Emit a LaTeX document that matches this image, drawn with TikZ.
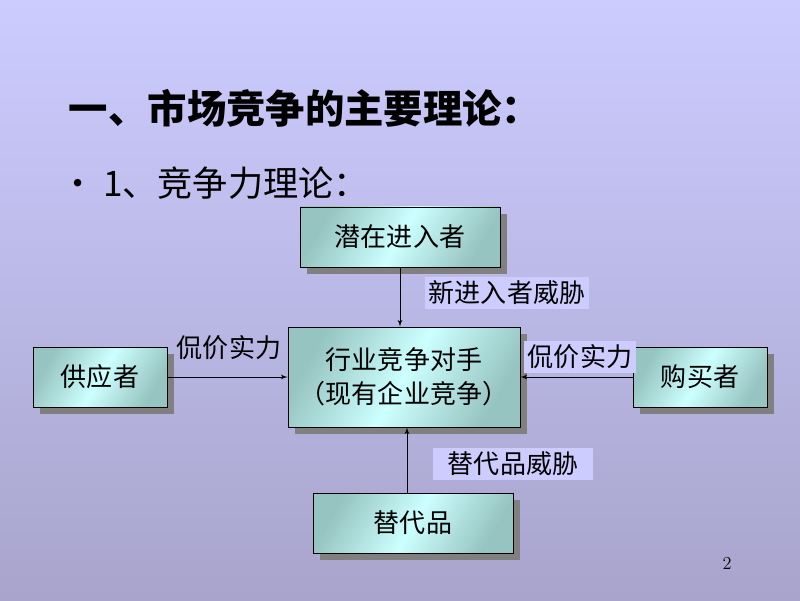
\documentclass[tikz,border=0pt]{standalone}
\usepackage{fontspec}
\newfontfamily\cjk{Noto Sans CJK SC}
\usepackage{tikz}
\usetikzlibrary{arrows,shadows}
\definecolor{xbgtop}{RGB}{204,204,255}
\definecolor{xbgbot}{RGB}{168,164,204}
\definecolor{xboxd}{RGB}{150,196,192}
\definecolor{xboxl}{RGB}{204,255,255}
\definecolor{xlab}{RGB}{204,204,255}
\definecolor{xshd}{RGB}{128,128,128}

\begin{document}
\begin{tikzpicture}[->,>=latex']
\tikzset{force/.style={draw=black,line width=0.7pt,minimum width=5cm,minimum height=1.5cm,
  left color=xboxd,right color=xboxd,middle color=xboxl,shading angle=60,
  drop shadow={shadow xshift=0.18cm,shadow yshift=-0.18cm,fill=xshd,opacity=1},
  font=\cjk\fontsize{18.5}{24}\selectfont,align=center}}
\tikzset{lbl/.style={font=\cjk\fontsize{18.5}{22}\selectfont,inner xsep=3pt,inner ysep=3pt}}
\tikzset{lblbg/.style={lbl,fill=xlab}}
\shade[top color=xbgtop,bottom color=xbgbot,draw=none,-] (0,0) rectangle (20,15);
\useasboundingbox (0,0) rectangle (20,15);
\node[anchor=west,font=\cjk\bfseries\fontsize{28}{32}\selectfont] at (1.6,12.3) (title) {一、市场竞争的主要理论：};
\node[anchor=west,font=\cjk\fontsize{25}{30}\selectfont] at (1.38,10.43) (sub) {• 1、竞争力理论：};
\node[force] at (10,9.075) (entrant) {潜在进入者};
\node[force,minimum width=5.8cm,minimum height=2.5cm] at (10.1,5.575) (rival) {行业竞争对手\\（现有企业竞争）};
\node[force,minimum width=3.35cm] at (2.5,5.575) (supplier) {供应者};
\node[force,minimum width=3.35cm] at (17.5,5.575) (buyer) {购买者};
\node[force] at (10.325,1.925) (subst) {替代品};
\draw[line width=0.6pt] (entrant.south -| 10,0) -- (10,0 |- rival.north);
\draw[line width=0.6pt] (supplier.east) -- (rival.west);
\draw[line width=0.6pt] (buyer.west) -- (rival.east);
\draw[line width=0.6pt] (subst.north -| 10.175,0) -- (10.175,0 |- rival.south);
\node[lblbg] at (12.675,7.675) (newthreat) {新进入者威胁};
\node[lbl] at (5.725,6.3) (suppower) {侃价实力};
\node[lblbg] at (14.5,6.075) (buypower) {侃价实力};
\node[lblbg,inner xsep=0.38cm,inner ysep=0.1cm] at (12.825,3.4) (subthreat) {替代品威胁};
\node[font=\fontsize{13}{15}\selectfont] at (18.175,0.925) (pageno) {2};
\end{tikzpicture}
\end{document}
